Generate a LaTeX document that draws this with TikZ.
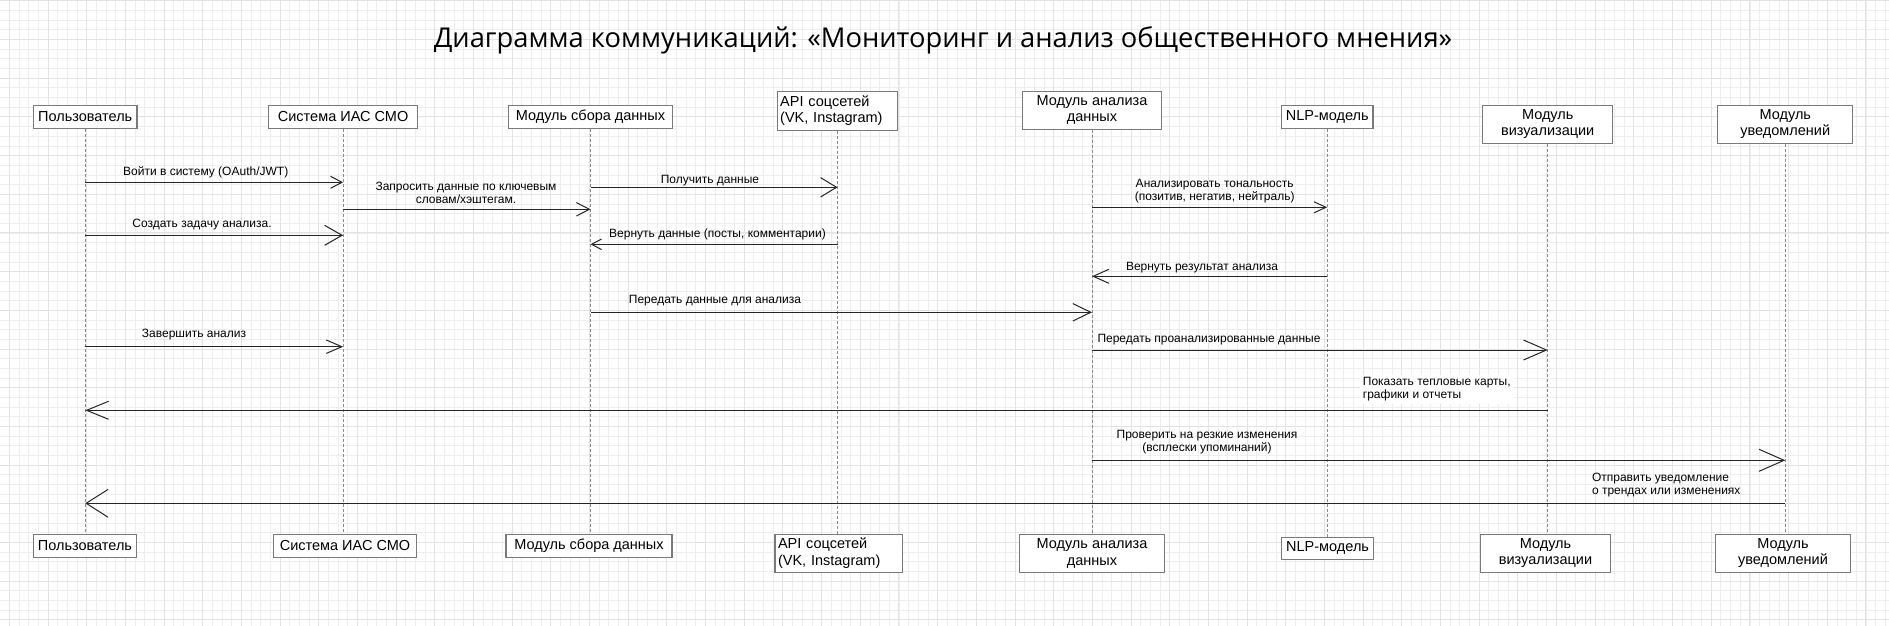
\documentclass[tikz,border=0pt]{standalone}
\usepackage{fontspec}
\setmainfont{Liberation Sans}
\newfontfamily\titlefont{Open Sans}
\usetikzlibrary{arrows.meta}
\definecolor{gridminor}{HTML}{EEEEEE}
\definecolor{gridmajor}{HTML}{E3E3E3}
\definecolor{boxline}{HTML}{7A7A7A}
\definecolor{lifeline}{HTML}{8A8A8A}
\definecolor{msgline}{HTML}{262626}
\begin{document}
\begin{tikzpicture}[x=1pt,y=-1pt,
  box/.style={draw=boxline, line width=1.1pt, fill=white, inner sep=0pt, align=center,
    font=\fontsize{14.5}{16.5}\selectfont},
  lab/.style={inner sep=0pt, align=center, font=\fontsize{12}{13}\selectfont},
  life/.style={draw=lifeline, line width=0.8pt, dash pattern=on 3pt off 2pt},
  msg/.style 2 args={draw=msgline, line width=1pt, -{Straight Barb[length=#1, width=#2]}}]
\useasboundingbox (0,0) rectangle (1889,626);
\fill[white] (0,0) rectangle (1889,626);
% grid
\foreach \i in {0,...,194} {\draw[gridminor, line width=0.9pt] ({9.33+9.67*\i},0) -- ++(0,626);}
\foreach \i in {0,...,64} {\draw[gridminor, line width=0.9pt] (0,{0.9+9.67*\i}) -- ++(1889,0);}
\foreach \i in {0,4,...,194} {\draw[gridmajor, line width=1pt] ({9.33+9.67*\i},0) -- ++(0,626);}
\foreach \i in {0,4,...,64} {\draw[gridmajor, line width=1pt] (0,{0.9+9.67*\i}) -- ++(1889,0);}

% title
\node[font=\titlefont\fontsize{27.3}{32}\selectfont, inner sep=0pt] (title) at (943,40.5)
  {Диаграмма коммуникаций: «Мониторинг и анализ общественного мнения»};

% top boxes
\node[box, minimum width=103.5pt, minimum height=23pt] (uT) at (85.25,116.8) {Пользователь};
\node[box, minimum width=149pt, minimum height=23pt] (sT) at (343.1,116.8) {Система ИАС СМО};
\node[box, minimum width=164pt, minimum height=23pt] (cT) at (590.5,116.8) {Модуль сбора данных};
\node[box, minimum height=39pt, inner xsep=3pt, text width=114.6pt, align=left] (aT) at (837.5,110.8) {API соцсетей\\(VK, Instagram)};
\node[box, minimum width=139.3pt, minimum height=37.7pt] (mT) at (1092,110.2) {Модуль анализа\\данных};
\node[box, minimum width=91.6pt, minimum height=23pt] (nT) at (1327.2,116.8) {NLP-модель};
\node[box, minimum width=130pt, minimum height=37.7pt] (vT) at (1547.7,124.2) {Модуль\\визуализации};
\node[box, minimum width=135pt, minimum height=37.7pt] (wT) at (1785.3,124.2) {Модуль\\уведомлений};

% bottom boxes
\node[box, minimum width=103.6pt, minimum height=23pt] (uB) at (85,545.8) {Пользователь};
\node[box, minimum width=143pt, minimum height=23pt] (sB) at (345,545.8) {Система ИАС СМО};
\node[box, minimum width=166pt, minimum height=23pt] (cB) at (589,545.8) {Модуль сбора данных};
\node[box, minimum height=37.7pt, inner xsep=3pt, text width=121.4pt, align=left] (aB) at (838.7,553.2) {API соцсетей\\(VK, Instagram)};
\node[box, minimum width=144.2pt, minimum height=37.7pt] (mB) at (1092,553.2) {Модуль анализа\\данных};
\node[box, minimum width=92pt, minimum height=22.3pt] (nB) at (1327.6,548.2) {NLP-модель};
\node[box, minimum width=130pt, minimum height=37.7pt] (vB) at (1545.5,553.2) {Модуль\\визуализации};
\node[box, minimum width=135.2pt, minimum height=37.7pt] (wB) at (1783,553.2) {Модуль\\уведомлений};

% lifelines
\foreach \n in {u,s,c,a,m,n,v,w} {\draw[life] (\n T.south) -- (\n T.south |- \n B.north);}

% messages
\draw[msg={11.5pt}{12pt}] (uT.south |- 0,182.3) -- (sT.south |- 0,182.3);
\node[lab] (l1) at (205.7,172) {Войти в систему (OAuth/JWT)};

\draw[msg={13pt}{13.4pt}] (sT.south |- 0,209.3) -- (cT.south |- 0,209.3);
\node[lab] (l2) at (466,192.5) {Запросить данные по ключевым\\словам/хэштегам.};

\draw[msg={17.5pt}{20pt}] (uT.south |- 0,235.3) -- (sT.south |- 0,235.3);
\node[lab] (l3) at (202,225) {Создать задачу анализа.};

\draw[msg={16pt}{19.4pt}] (cT.south |- 0,187.3) -- (aT.south |- 0,187.3);
\node[lab] (l4) at (710,180.7) {Получить данные};

\draw[msg={10pt}{10.6pt}] (aT.south |- 0,244.3) -- (cT.south |- 0,244.3);
\node[lab] (l5) at (717.5,234) {Вернуть данные (посты, комментарии)};

\draw[msg={12pt}{11pt}] (mT.south |- 0,207.3) -- (nT.south |- 0,207.3);
\node[lab] (l6) at (1214.7,191) {Анализировать тональность\\(позитив, негатив, нейтраль)};

\draw[msg={15.6pt}{14pt}] (nT.south |- 0,276.3) -- (mT.south |- 0,276.3);
\node[lab] (l7) at (1202,267.7) {Вернуть результат анализа};

\draw[msg={18pt}{17.4pt}] (cT.south |- 0,312.3) -- (mT.south |- 0,312.3);
\node[lab] (l8) at (715,300.7) {Передать данные для анализа};

\draw[msg={15.5pt}{13.4pt}] (uT.south |- 0,346.7) -- (sT.south |- 0,346.7);
\node[lab] (l9) at (194,335) {Завершить анализ};

\draw[msg={23pt}{20pt}] (mT.south |- 0,350) -- (vT.south |- 0,350);
\node[lab] (l10) at (1209,339.3) {Передать проанализированные данные};

\draw[msg={22pt}{18pt}] (vT.south |- 0,410.3) -- (uT.south |- 0,410.3);
\node[lab, anchor=west, align=left, fill=white, inner xsep=3pt, inner ysep=3pt] (l11) at (1359.7,389.5) {Показать тепловые карты,\\графики и отчеты};

\draw[msg={25pt}{22pt}] (mT.south |- 0,460.3) -- (wT.south |- 0,460.3);
\node[lab] (l12) at (1207,442) {Проверить на резкие изменения\\(всплески упоминаний)};

\draw[msg={22pt}{28pt}] (wT.south |- 0,503.3) -- (uT.south |- 0,503.3);
\node[lab, anchor=west, align=left] (l13) at (1591.8,485.2) {Отправить уведомление\\о трендах или изменениях};
\end{tikzpicture}
\end{document}
